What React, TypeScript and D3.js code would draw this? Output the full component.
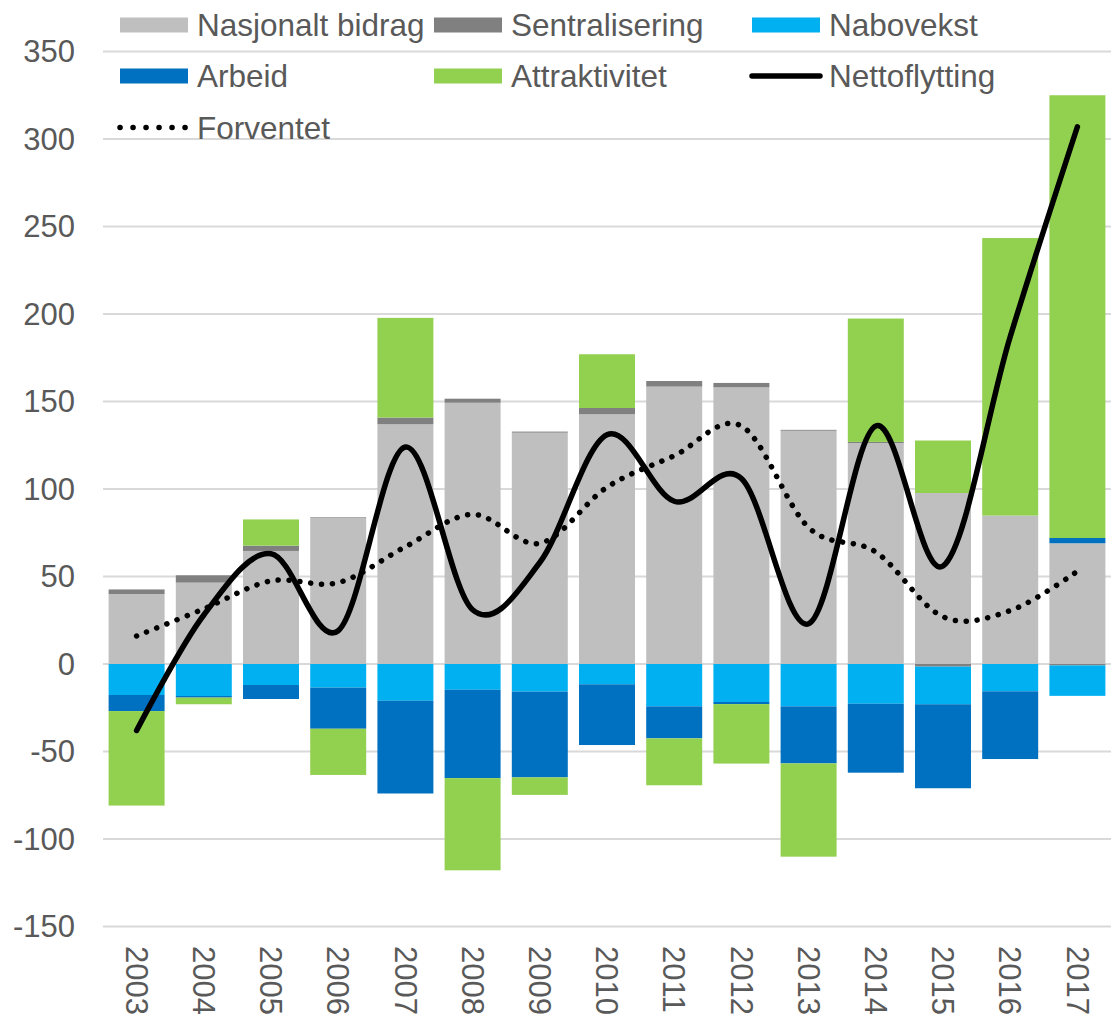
import React from 'react';
import * as d3 from 'd3';

const years = ['2003', '2004', '2005', '2006', '2007', '2008', '2009', '2010', '2011', '2012', '2013', '2014', '2015', '2016', '2017'];
const nasjonalt = [40, 46.5, 64.6, 83.4, 137, 149.3, 132.2, 142.7, 158.5, 158.1, 133.3, 126.3, 97.7, 84.8, 69];
const sentralisering = [2.6, 4.2, 3, 0.4, 3.8, 2.3, 0.6, 3.6, 3.2, 2.5, 0.5, 0.6, -1.5, 0, -0.8];
const nabovekst = [-17.7, -18.3, -12, -13.5, -21, -14.7, -15.8, -11.6, -24.2, -21.7, -24.2, -22.7, -21.5, -15.6, -17.4];
const arbeid = [-9.2, -0.9, -8, -23.5, -53, -50.5, -49, -34.7, -18.3, -1.2, -32.6, -39.4, -48, -38.7, 3];
const attraktivitet = [-54, -3.8, 15, -26.4, 57, -52.7, -10, 30.7, -26.8, -34, -53.3, 70.5, 30, 158.6, 253];
const nettoflytting = [-38, 28, 63, 19, 124, 31, 58, 131, 93, 106, 23, 136, 56, 187, 307];
const forventet = [16, 31.5, 47.5, 46.5, 67, 85.5, 69, 101, 119, 136, 78, 64, 27, 30.5, 53];
const yTicks = [-150, -100, -50, 0, 50, 100, 150, 200, 250, 300, 350];

const seriesNames = ['Nasjonalt bidrag', 'Sentralisering', 'Nabovekst', 'Arbeid', 'Attraktivitet'];
const seriesColors = ['#BFBFBF', '#808080', '#00B0F0', '#0070C0', '#92D050'];
const seriesValues = [nasjonalt, sentralisering, nabovekst, arbeid, attraktivitet];

const W = 1118;
const H = 1021;
const FONT = '"Liberation Sans", Arial, sans-serif';
const TEXT = '#595959';

export default function App() {
  const x = d3.scaleBand<string>().domain(years).range([103, 1111]).paddingInner(0.167).paddingOuter(0.0835);
  const y = d3.scaleLinear().domain([-150, 350]).range([926.5, 51.5]);

  const rows = years.map((yr, i) => {
    const r: any = { year: yr };
    seriesNames.forEach((n, k) => (r[n] = seriesValues[k][i]));
    return r;
  });
  const stacked = d3.stack<any>().keys(seriesNames).offset(d3.stackOffsetDiverging)(rows);

  const cx = (yr: string) => (x(yr) as number) + x.bandwidth() / 2;
  const line = d3
    .line<number>()
    .x((_, i) => cx(years[i]))
    .y((d) => y(d))
    .curve(d3.curveCatmullRom.alpha(0));

  const legend = [
    { name: 'Nasjonalt bidrag', type: 'rect', color: seriesColors[0], x: 120, y: 25 },
    { name: 'Sentralisering', type: 'rect', color: seriesColors[1], x: 434, y: 25 },
    { name: 'Nabovekst', type: 'rect', color: seriesColors[2], x: 752, y: 25 },
    { name: 'Arbeid', type: 'rect', color: seriesColors[3], x: 120, y: 76 },
    { name: 'Attraktivitet', type: 'rect', color: seriesColors[4], x: 434, y: 76 },
    { name: 'Nettoflytting', type: 'line', color: '#000', x: 752, y: 76 },
    { name: 'Forventet', type: 'dot', color: '#000', x: 120, y: 127.5 },
  ];

  return (
    <div style={{ position: 'absolute', left: 0, top: 0 }}>
      <svg width={W} height={H} style={{ display: 'block', background: '#fff' }} fontFamily={FONT}>
        <g>
          {yTicks.map((t) => (
            <line key={t} x1={103} x2={1111} y1={y(t)} y2={y(t)} stroke="#D9D9D9" strokeWidth={2} />
          ))}
        </g>
        <g>
          {yTicks.map((t) => (
            <text key={t} x={75} y={y(t)} dy="0.35em" textAnchor="end" fontSize={31} fill={TEXT}>
              {t}
            </text>
          ))}
        </g>
        <g>
          {stacked.map((s, k) => (
            <g key={s.key} fill={seriesColors[k]}>
              {s.map((d, i) => {
                const y0 = y(d[0]);
                const y1 = y(d[1]);
                const h = Math.abs(y0 - y1);
                if (h < 0.01) return null;
                return <rect key={i} x={x(years[i])} width={x.bandwidth()} y={Math.min(y0, y1)} height={h} />;
              })}
            </g>
          ))}
        </g>
        <path d={line(forventet) || ''} fill="none" stroke="#000" strokeWidth={5.5} strokeLinecap="round" strokeDasharray="0.1 10.8" />
        <path d={line(nettoflytting) || ''} fill="none" stroke="#000" strokeWidth={5.5} strokeLinecap="round" />
        <g>
          {years.map((yr) => (
            <text
              key={yr}
              transform={`translate(${cx(yr)},946) rotate(90)`}
              dy="0.35em"
              fontSize={31}
              fill={TEXT}
            >
              {yr}
            </text>
          ))}
        </g>
        <g>
          {legend.map((l) => (
            <g key={l.name}>
              {l.type === 'rect' && <rect x={l.x} y={l.y - 7.5} width={68} height={15} fill={l.color} />}
              {l.type === 'line' && (
                <line x1={l.x} x2={l.x + 68} y1={l.y} y2={l.y} stroke="#000" strokeWidth={5.5} strokeLinecap="round" />
              )}
              {l.type === 'dot' && (
                <line x1={l.x} x2={l.x + 66} y1={l.y} y2={l.y} stroke="#000" strokeWidth={5.5} strokeLinecap="round" strokeDasharray="0.1 12.9" />
              )}
              <text x={l.x + 77} y={l.y} dy="0.35em" fontSize={31.5} fill={TEXT}>
                {l.name}
              </text>
            </g>
          ))}
        </g>
      </svg>
    </div>
  );
}
